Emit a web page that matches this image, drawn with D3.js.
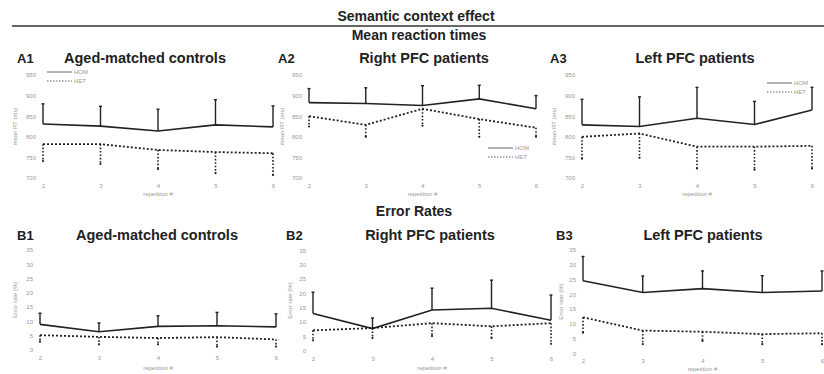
<!DOCTYPE html>
<html>
<head>
<meta charset="utf-8">
<script src="https://cdn.jsdelivr.net/npm/d3@7"></script>
<style>
  body { margin: 0; background: #fff; }
  svg { display: block; }
  .tick-label { font-family: "Liberation Sans", Arial, sans-serif; font-size: 6px; fill: #999; }
  .head { font-family: "Liberation Sans", Arial, sans-serif; font-weight: bold; fill: #222; }
</style>
</head>
<body>
<div id="chart"></div>
<script>
// repetition numbers shared by all panels
const repetitions = [2, 3, 4, 5, 6]

// mean reaction times (ms)
const rtControlsHom = [831, 826, 814, 829, 824]
const rtControlsHomErr = [880, 874, 867, 890, 875]
const rtControlsHet = [782, 782, 768, 763, 760]
const rtControlsHetErr = [741, 734, 722, 712, 707]

const rtRightHom = [883, 881, 876, 892, 868]
const rtRightHomErr = [917, 919, 924, 925, 900]
const rtRightHet = [850, 829, 868, 843, 822]
const rtRightHetErr = [825, 800, 827, 800, 800]

const rtLeftHom = [829, 825, 845, 830, 865]
const rtLeftHomErr = [891, 897, 920, 886, 920]
const rtLeftHet = [800, 808, 776, 776, 778]
const rtLeftHetErr = [747, 749, 723, 720, 723]

// error rates (%)
const erControlsHom = [8.9, 6.3, 8.2, 8.4, 8.0]
const erControlsHomErr = [12.8, 9.4, 11.9, 13.1, 12.6]
const erControlsHet = [5.1, 4.5, 4.1, 4.4, 3.6]
const erControlsHetErr = [2.8, 1.9, 1.9, 1.1, 1.1]

const erRightHom = [13.0, 7.7, 14.2, 14.8, 10.6]
const erRightHomErr = [20.4, 11.4, 21.8, 24.6, 19.4]
const erRightHet = [7.1, 7.9, 9.6, 8.5, 9.6]
const erRightHetErr = [3.6, 4.4, 5.1, 4.4, 2.4]

const erLeftHom = [24.6, 20.6, 21.9, 20.6, 21.1]
const erLeftHomErr = [32.8, 26.2, 27.9, 26.3, 27.9]
const erLeftHet = [12.2, 7.7, 7.3, 6.5, 6.8]
const erLeftHetErr = [7.0, 3.1, 4.2, 3.1, 3.1]

const rtTicks = [700, 750, 800, 850, 900, 950]
const erTicks = [0, 5, 10, 15, 20, 25, 30, 35]

const width = 824, height = 374

const svg = d3.select("#chart").append("svg")
    .attr("width", width)
    .attr("height", height)

// headings
svg.append("text").attr("class", "head").attr("x", 416).attr("y", 21)
    .attr("text-anchor", "middle").style("font-size", "14px").text("Semantic context effect")
svg.append("line").attr("x1", 12).attr("x2", 824).attr("y1", 26).attr("y2", 26)
    .attr("stroke", "#333").attr("stroke-width", 1.3)
svg.append("text").attr("class", "head").attr("x", 419).attr("y", 40)
    .attr("text-anchor", "middle").style("font-size", "14px").text("Mean reaction times")
svg.append("text").attr("class", "head").attr("x", 414).attr("y", 216)
    .attr("text-anchor", "middle").style("font-size", "14px").text("Error Rates")

const panels = [
    { tag: "A1", title: "Aged-matched controls", tagX: 17, titleX: 145, titleY: 63, x0: 43, x1: 273, y0: 178, y1: 75, ticks: rtTicks, yLabel: "mean RT (ms)", labelX: 17, xTickY: 188, xLabelY: 196,
      hom: rtControlsHom, homErr: rtControlsHomErr, het: rtControlsHet, hetErr: rtControlsHetErr, legend: [47, 72] },
    { tag: "A2", title: "Right PFC patients", tagX: 278, titleX: 424, titleY: 63, x0: 309, x1: 536, y0: 178, y1: 75, ticks: rtTicks, yLabel: "mean RT (ms)", labelX: 284, xTickY: 188, xLabelY: 196,
      hom: rtRightHom, homErr: rtRightHomErr, het: rtRightHet, hetErr: rtRightHetErr, legend: [488, 148] },
    { tag: "A3", title: "Left PFC patients", tagX: 550, titleX: 695, titleY: 63, x0: 582, x1: 812, y0: 178, y1: 75, ticks: rtTicks, yLabel: "mean RT (ms)", labelX: 556, xTickY: 188, xLabelY: 196,
      hom: rtLeftHom, homErr: rtLeftHomErr, het: rtLeftHet, hetErr: rtLeftHetErr, legend: [767, 83] },
    { tag: "B1", title: "Aged-matched controls", tagX: 17, titleX: 157, titleY: 240, x0: 40, x1: 276, y0: 349.7, y1: 250, ticks: erTicks, yLabel: "Error rate (%)", labelX: 17, xTickY: 360, xLabelY: 370,
      hom: erControlsHom, homErr: erControlsHomErr, het: erControlsHet, hetErr: erControlsHetErr },
    { tag: "B2", title: "Right PFC patients", tagX: 286, titleX: 430, titleY: 240, x0: 313, x1: 551, y0: 350.7, y1: 250.3, ticks: erTicks, yLabel: "Error rate (%)", labelX: 292, xTickY: 361, xLabelY: 370,
      hom: erRightHom, homErr: erRightHomErr, het: erRightHet, hetErr: erRightHetErr },
    { tag: "B3", title: "Left PFC patients", tagX: 556, titleX: 703, titleY: 240, x0: 583, x1: 822, y0: 353.3, y1: 250, ticks: erTicks, yLabel: "Error rate (%)", labelX: 563, xTickY: 363, xLabelY: 371,
      hom: erLeftHom, homErr: erLeftHomErr, het: erLeftHet, hetErr: erLeftHetErr }
]

panels.forEach(p => {
    const x = d3.scalePoint().domain(repetitions).range([p.x0, p.x1])
    const y = d3.scaleLinear().domain(d3.extent(p.ticks)).range([p.y0, p.y1])
    const g = svg.append("g")

    g.append("text").attr("class", "head").attr("x", p.tagX).attr("y", p.titleY)
        .style("font-size", "13px").text(p.tag)
    g.append("text").attr("class", "head").attr("x", p.titleX).attr("y", p.titleY)
        .attr("text-anchor", "middle").style("font-size", "14.5px").text(p.title)

    // y tick labels (axis line hidden like the original)
    const yAxis = g.append("g").attr("transform", `translate(${p.x0 - 5},0)`)
        .call(d3.axisLeft(y).tickValues(p.ticks).tickSize(0).tickPadding(2))
    yAxis.select(".domain").remove()
    yAxis.selectAll("text").attr("class", "tick-label").attr("font-size", null).attr("font-family", null)

    const xAxis = g.append("g").attr("transform", `translate(0,${p.xTickY - 6})`)
        .call(d3.axisBottom(x).tickSize(0).tickPadding(2))
    xAxis.select(".domain").remove()
    xAxis.selectAll("text").attr("class", "tick-label").attr("font-size", null).attr("font-family", null)

    g.append("text").attr("class", "tick-label").attr("x", (p.x0 + p.x1) / 2).attr("y", p.xLabelY)
        .attr("text-anchor", "middle").text("repetition #")
    g.append("text").attr("class", "tick-label")
        .attr("transform", `translate(${p.labelX},${(p.y0 + p.y1) / 2}) rotate(-90)`)
        .attr("text-anchor", "middle").text(p.yLabel)

    const line = d3.line().x((d, i) => x(repetitions[i])).y(d => y(d))

    // HOM: solid, error bars upward
    repetitions.forEach((r, i) => {
        g.append("line").attr("x1", x(r)).attr("x2", x(r))
            .attr("y1", y(p.hom[i])).attr("y2", y(p.homErr[i]))
            .attr("stroke", "#222").attr("stroke-width", 1.4)
        g.append("line").attr("x1", x(r) - 1.5).attr("x2", x(r) + 1.5)
            .attr("y1", y(p.homErr[i])).attr("y2", y(p.homErr[i]))
            .attr("stroke", "#222").attr("stroke-width", 1.4)
    })
    g.append("path").datum(p.hom).attr("d", line)
        .attr("fill", "none").attr("stroke", "#222").attr("stroke-width", 1.6)

    // HET: dotted, error bars downward
    repetitions.forEach((r, i) => {
        g.append("line").attr("x1", x(r)).attr("x2", x(r))
            .attr("y1", y(p.het[i])).attr("y2", y(p.hetErr[i]))
            .attr("stroke", "#222").attr("stroke-width", 1.6).attr("stroke-dasharray", "1.6,1.8")
        g.append("circle").attr("cx", x(r)).attr("cy", y(p.hetErr[i])).attr("r", 1.1)
            .attr("fill", "#222")
    })
    g.append("path").datum(p.het).attr("d", line)
        .attr("fill", "none").attr("stroke", "#222").attr("stroke-width", 1.8)
        .attr("stroke-dasharray", "2,2")

    if (p.legend) {
        const [lx, ly] = p.legend
        g.append("line").attr("x1", lx).attr("x2", lx + 25).attr("y1", ly).attr("y2", ly)
            .attr("stroke", "#555").attr("stroke-width", 0.9)
        g.append("line").attr("x1", lx).attr("x2", lx + 25).attr("y1", ly + 9).attr("y2", ly + 9)
            .attr("stroke", "#555").attr("stroke-width", 0.9).attr("stroke-dasharray", "1.5,1.5")
        g.append("text").attr("class", "tick-label").attr("x", lx + 27).attr("y", ly + 2).text("HOM")
        g.append("text").attr("class", "tick-label").attr("x", lx + 27).attr("y", ly + 11).text("HET")
    }
})
</script>
</body>
</html>
